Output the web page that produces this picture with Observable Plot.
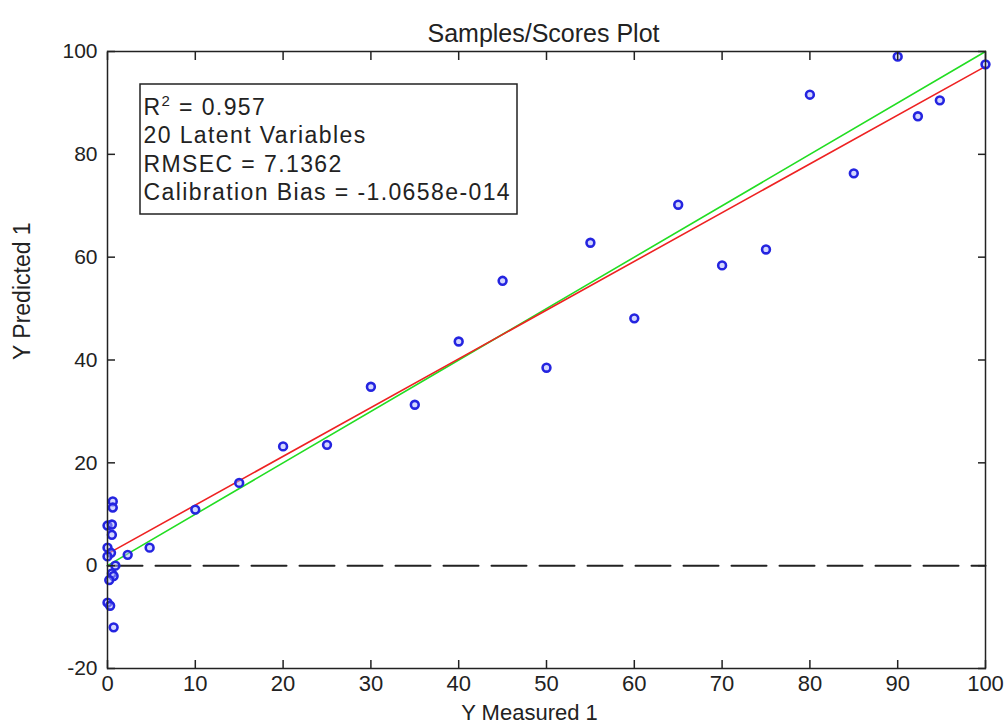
<!DOCTYPE html>
<html>
<head>
<meta charset="utf-8">
<script src="https://cdn.jsdelivr.net/npm/d3@7"></script>
<script src="https://cdn.jsdelivr.net/npm/@observablehq/plot@0.6"></script>
<style>
  html, body { margin: 0; padding: 0; background: #fff; }
  svg { font-family: "Liberation Sans", Arial, sans-serif; }
  .legend text { letter-spacing: 1.4px; }
</style>
</head>
<body>
<div id="chart"></div>
<script>
// ---- data ----
const yMeasured  = [0.6, 0.6, 0, 0.5, 0.5, 0, 0.4, 0, 0.9, 0.5, 0.7, 0.2, 0, 0.3, 0.7,
                    2.3, 4.8, 10, 15, 20, 25, 30, 35, 40, 45, 50, 55, 60, 65, 70, 75, 80, 85, 90, 92.3, 94.8, 100];
const yPredicted = [12.5, 11.3, 7.8, 8, 6, 3.5, 2.5, 1.8, 0, -1.5, -2, -2.8, -7.2, -7.8, -12,
                    2.1, 3.5, 10.9, 16.1, 23.2, 23.5, 34.8, 31.3, 43.6, 55.4, 38.5, 62.8, 48.1, 70.2, 58.4, 61.5, 91.6, 76.3, 99, 87.4, 90.5, 97.5];
const lineX = [0, 100];
const fitY = [2.3, 97.1];     // regression fit (red)
const idealY = [0, 100];      // 1:1 target (green)
const zeroY = [0, 0];         // dashed zero line
const xTicks = [0, 10, 20, 30, 40, 50, 60, 70, 80, 90, 100];
const yTicks = [-20, 0, 20, 40, 60, 80, 100];
const title = "Samples/Scores Plot";
const xLabel = "Y Measured 1";
const yLabel = "Y Predicted 1";
const statsText = ["R2 = 0.957", "20 Latent Variables", "RMSEC = 7.1362", "Calibration Bias = -1.0658e-014"];

const points = yMeasured.map((x, i) => ({x, y: yPredicted[i]}));
const lines = lineX.map((x, i) => ({x, fit: fitY[i], ideal: idealY[i], zero: zeroY[i]}));

const legendBox = (index, scales, values, dims) => {
  const r = d3.create("svg:rect")
    .attr("x", dims.marginLeft + 33)
    .attr("y", dims.marginTop + 33)
    .attr("width", 377)
    .attr("height", 130)
    .attr("fill", "white")
    .attr("stroke", "#222")
    .attr("stroke-width", 1.5);
  return r.node();
};

const plainNum = d => String(d);

const chart = Plot.plot({
  width: 1008,
  height: 726,
  marginLeft: 107,
  marginRight: 23,
  marginTop: 51,
  marginBottom: 58,
  style: {fontFamily: "'Liberation Sans', Arial, sans-serif", color: "#222", background: "white"},
  x: {domain: [0, 100]},
  y: {domain: [-20, 100]},
  marks: [
    Plot.lineY(lines, {x: "x", y: "zero", stroke: "#222", strokeWidth: 2, strokeDasharray: "35,13", strokeDashoffset: 0}),
    Plot.lineY(lines, {x: "x", y: "ideal", stroke: "#22dd22", strokeWidth: 1.6}),
    Plot.lineY(lines, {x: "x", y: "fit", stroke: "#ee2222", strokeWidth: 1.6}),
    Plot.dot(points, {x: "x", y: "y", r: 3.9, stroke: "#2424e0", strokeWidth: 2.6, fill: "#aab0ff", fillOpacity: 0.5}),
    legendBox,
    Plot.text([statsText.join("\n")], {frameAnchor: "top-left", textAnchor: "start", lineAnchor: "top", dx: 36, dy: 44, fontSize: 23, lineHeight: 1.22, fill: "#222", className: "legend"}),
    Plot.frame({stroke: "#222", strokeWidth: 1.5}),
    Plot.axisX(xTicks, {anchor: "bottom", tickSize: -8, tickFormat: () => "", label: null, strokeWidth: 1.5}),
    Plot.axisX(xTicks, {anchor: "top", tickSize: -8, tickFormat: () => "", label: null, strokeWidth: 1.5}),
    Plot.axisY(yTicks, {anchor: "left", tickSize: -8, tickFormat: () => "", label: null, strokeWidth: 1.5}),
    Plot.axisY(yTicks, {anchor: "right", tickSize: -8, tickFormat: () => "", label: null, strokeWidth: 1.5}),
    Plot.axisX(xTicks, {anchor: "bottom", tickSize: 0, tickPadding: 7, label: null, fontSize: 22, fill: "#222", tickFormat: plainNum}),
    Plot.axisY(yTicks, {anchor: "left", tickSize: 0, tickPadding: 10, label: null, fontSize: 21, fill: "#222", tickFormat: plainNum}),
    Plot.text([title], {frameAnchor: "top", dy: -27, dx: -3, fontSize: 25, fill: "#222"}),
    Plot.text([xLabel], {frameAnchor: "bottom", dy: 51, dx: -17, fontSize: 22, fill: "#222"}),
    Plot.text([yLabel], {frameAnchor: "left", dx: -85, rotate: -90, fontSize: 23, fill: "#222"})
  ]
});

// superscript 2 in "R2"
const first = d3.select(chart).select(".legend text tspan");
if (!first.empty()) {
  const t = first.text();
  first.text("");
  first.append("tspan").text(t.slice(0, 1));
  first.append("tspan").attr("dy", -9).attr("font-size", 15).text(t.slice(1, 2));
  first.append("tspan").attr("dy", 9).text(t.slice(2));
} else {
  const txt = d3.select(chart).select(".legend text");
  const t = txt.text();
  txt.text("");
  txt.append("tspan").text(t.slice(0, 1));
  txt.append("tspan").attr("dy", -9).attr("font-size", 15).text(t.slice(1, 2));
  txt.append("tspan").attr("dy", 9).text(t.slice(2));
}
document.getElementById("chart").appendChild(chart);
</script>
</body>
</html>
